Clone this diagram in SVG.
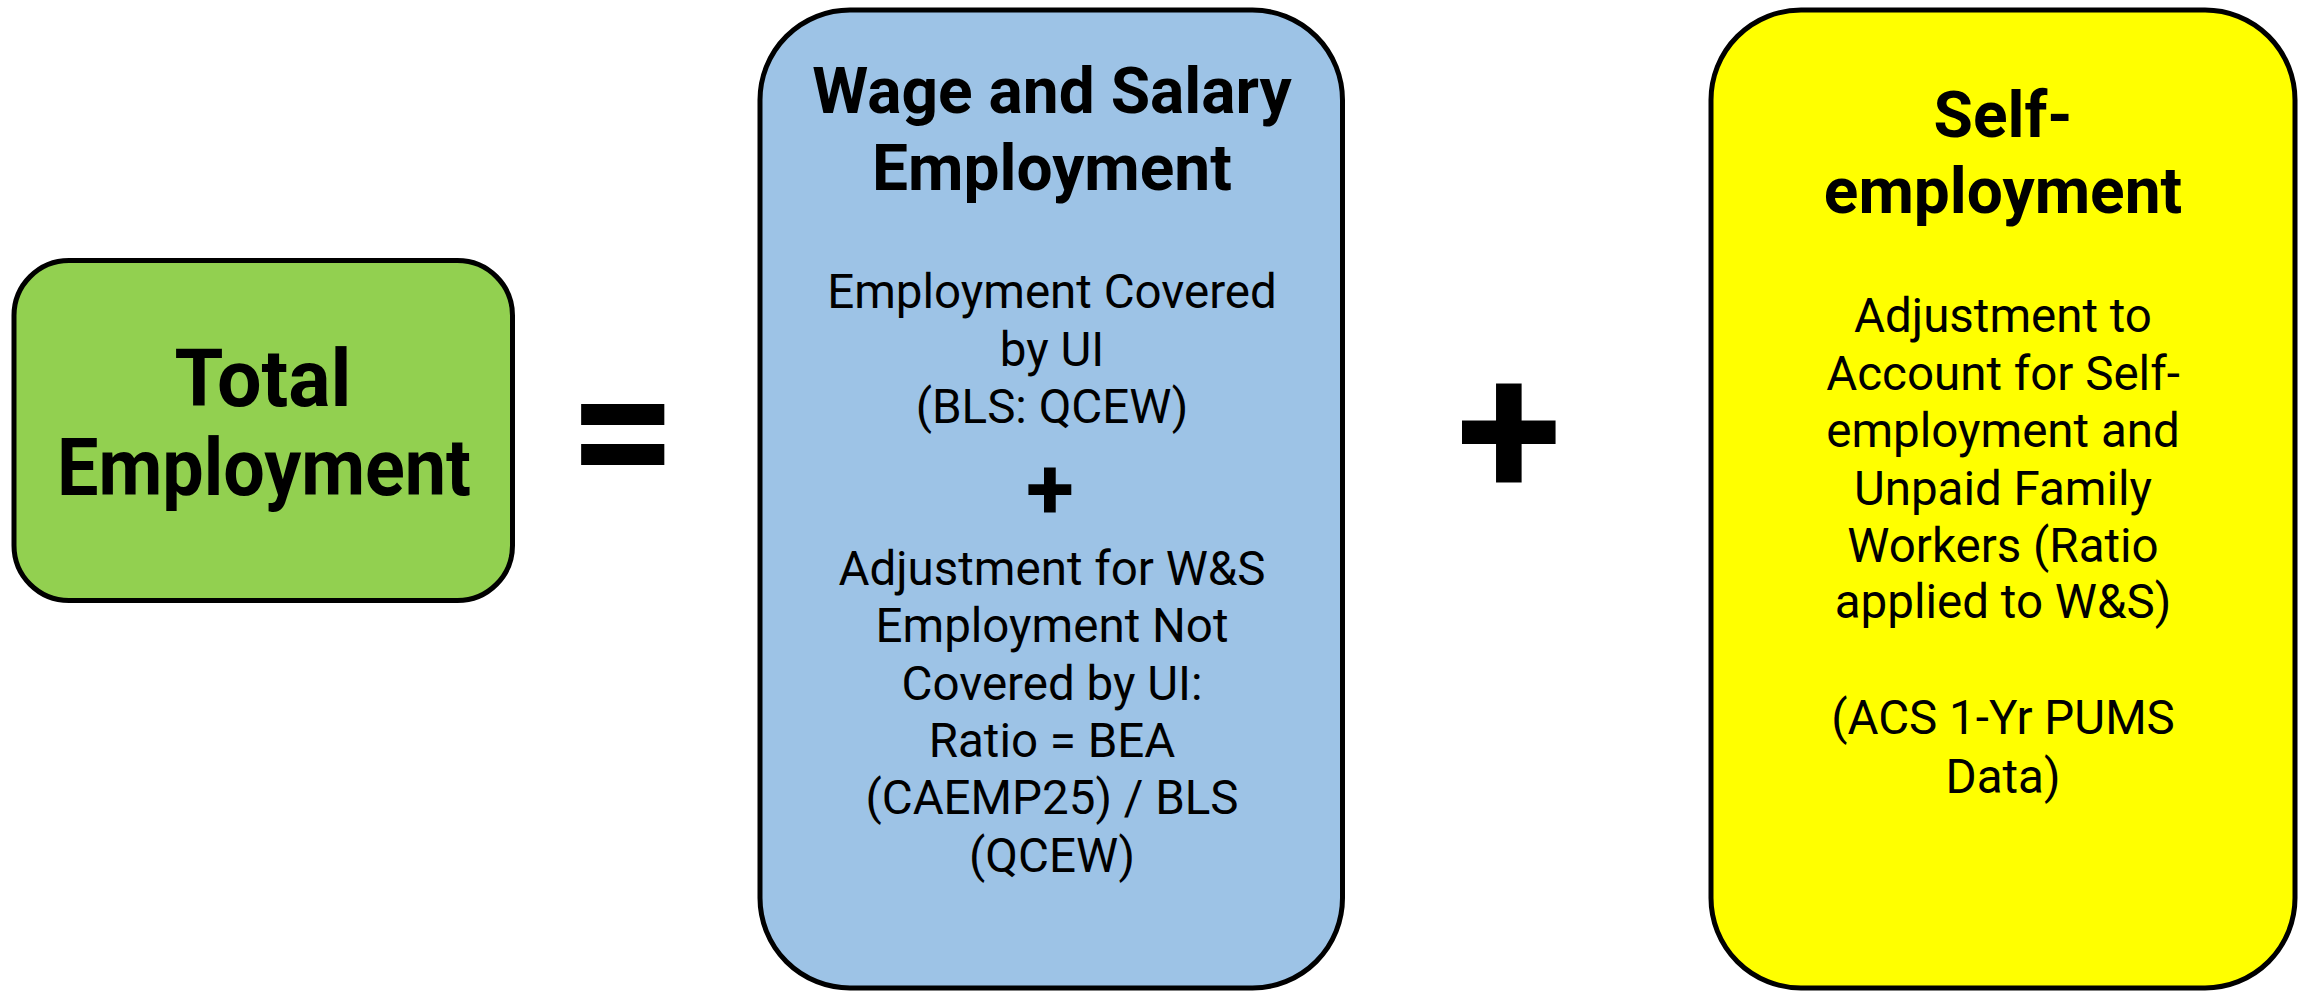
<svg xmlns="http://www.w3.org/2000/svg" width="2300" height="991" viewBox="0 0 2300 991">
<style>
.box{stroke:#000;stroke-width:5}
.t{font-family:Roboto,"Liberation Sans",sans-serif;fill:#000;text-anchor:middle}
.h{font-weight:bold;font-size:64px}
.b{font-size:47.5px}
.sym{font-weight:bold}
</style>
<rect width="2300" height="991" fill="#fff"/>
<g id="connectors"></g>
<g id="total">
<rect class="box" x="14" y="260.5" width="498.5" height="340" rx="55" ry="55" fill="#92D050"/>
<text class="t" font-weight="bold" font-size="79" x="263" y="406">Total</text>
<text class="t" font-weight="bold" font-size="79" x="264" y="495" textLength="414" lengthAdjust="spacingAndGlyphs">Employment</text>
</g>
<g id="equals">
<text class="t sym" font-size="190" x="623" y="495">=</text>
</g>
<g id="wage">
<rect class="box" x="760" y="10" width="582.5" height="978" rx="90" ry="90" fill="#9DC3E6"/>
<text class="t h" x="1052" y="113">Wage and Salary</text>
<text class="t h" x="1052" y="190">Employment</text>
<text class="t b" x="1052" y="308">Employment Covered</text>
<text class="t b" x="1052" y="366">by UI</text>
<text class="t b" x="1052" y="423">(BLS: QCEW)</text>
<text class="t sym" font-size="88" x="1050" y="519">+</text>
<text class="t b" x="1052" y="585">Adjustment for W&amp;S</text>
<text class="t b" x="1052" y="642">Employment Not</text>
<text class="t b" x="1052" y="700">Covered by UI:</text>
<text class="t b" x="1052" y="757">Ratio = BEA</text>
<text class="t b" x="1052" y="814">(CAEMP25) / BLS</text>
<text class="t b" x="1052" y="872">(QCEW)</text>
</g>
<g id="plus">
<text class="t sym" font-size="192" x="1509" y="496">+</text>
</g>
<g id="self">
<rect class="box" x="1711" y="10" width="584" height="978" rx="90" ry="90" fill="#FFFF00"/>
<text class="t h" x="2003" y="137">Self-</text>
<text class="t h" x="2003" y="213">employment</text>
<text class="t b" x="2003" y="332">Adjustment to</text>
<text class="t b" x="2003" y="390">Account for Self-</text>
<text class="t b" x="2003" y="447">employment and</text>
<text class="t b" x="2003" y="505">Unpaid Family</text>
<text class="t b" x="2003" y="562">Workers (Ratio</text>
<text class="t b" x="2003" y="618">applied to W&amp;S)</text>
<text class="t b" x="2003" y="734">(ACS 1-Yr PUMS</text>
<text class="t b" x="2003" y="793">Data)</text>
</g>
</svg>
